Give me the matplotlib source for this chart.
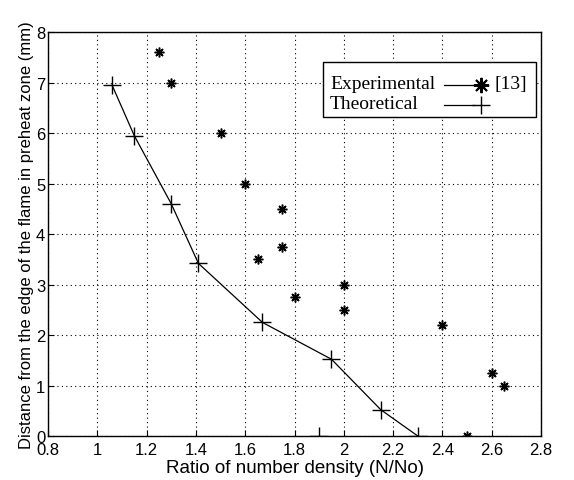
import matplotlib.pyplot as plt
from matplotlib.patches import Rectangle

# ---------------- DATA ----------------

exp_x = [1.25, 1.3, 1.5, 1.6, 1.75, 1.75, 1.65, 1.8, 2.0, 2.0, 2.4, 2.6, 2.65, 2.5]
exp_y = [7.6, 7.0, 6.0, 5.0, 4.5, 3.75, 3.5, 2.75, 3.0, 2.5, 2.2, 1.25, 1.0, 0.0]

theo_x = [1.06, 1.15, 1.3, 1.41, 1.67, 1.95, 2.15, 2.3]
theo_y = [6.95, 5.95, 4.6, 3.42, 2.25, 1.52, 0.52, 0.0]

extra_x = [1.9]
extra_y = [0.0]

xticks = [0.8, 1, 1.2, 1.4, 1.6, 1.8, 2, 2.2, 2.4, 2.6, 2.8]
yticks = [0, 1, 2, 3, 4, 5, 6, 7, 8]

# ---------------- PLOT ----------------

plt.rcParams['font.family'] = 'Liberation Sans'

fig = plt.figure(figsize=(5.74, 4.81), dpi=100)
ax = fig.add_axes([0.0836, 0.0915, 0.859, 0.8395])

asterisk = (8, 2, 0)
ax.plot(exp_x, exp_y, linestyle='none', marker=asterisk, markersize=7,
        markeredgewidth=1.1, color='black')
ax.plot(theo_x, theo_y, '-', color='black', linewidth=0.9,
        marker='+', markersize=13, markeredgewidth=1.0)
ax.plot(extra_x, extra_y, linestyle='none', marker='+', markersize=13,
        markeredgewidth=1.0, color='black')

ax.set_xlim(0.8, 2.8)
ax.set_ylim(0, 8)
ax.set_xticks(xticks)
ax.set_xticklabels([str(t) for t in xticks])
ax.set_yticks(yticks)
ax.grid(True, linestyle=(0, (1, 3)), color='black', linewidth=0.8)
ax.tick_params(direction='in', labelsize=12, length=4, pad=2)
ax.tick_params(axis='x', pad=4)
for s in ax.spines.values():
    s.set_linewidth(1.0)

ax.set_xlabel('Ratio of number density (N/No)', fontsize=13.5, labelpad=2)
ax.set_ylabel('Distance from the edge of the flame in preheat zone (mm)',
              fontsize=12, labelpad=1)

# ---------------- LEGEND (drawn by hand) ----------------

tr = ax.transAxes
ax.add_patch(Rectangle((0.558, 0.79), 0.432, 0.136, transform=tr,
                       facecolor='white', edgecolor='black', linewidth=1.0,
                       zorder=5))
ax.text(0.572, 0.872, 'Experimental', transform=tr, family='Liberation Serif',
        fontsize=14, va='center', zorder=6)
ax.text(0.572, 0.823, 'Theoretical', transform=tr, family='Liberation Serif',
        fontsize=14, va='center', zorder=6)
ax.plot([0.803, 0.865], [0.868, 0.868], transform=tr, color='black',
        linewidth=0.9, zorder=6)
ax.plot([0.878], [0.868], transform=tr, marker=asterisk, markersize=11,
        markeredgewidth=1.4, color='black', zorder=6)
ax.plot([0.878], [0.868], transform=tr, marker='o', markersize=5,
        color='black', zorder=6)
ax.text(0.905, 0.872, '[13]', transform=tr, family='Liberation Serif',
        fontsize=14, va='center', zorder=6)
ax.plot([0.803, 0.865], [0.82, 0.82], transform=tr, color='black',
        linewidth=0.9, zorder=6)
ax.plot([0.878], [0.82], transform=tr, marker='+', markersize=13,
        markeredgewidth=1.0, color='black', zorder=6)

fig.savefig('out.png', dpi=100)
